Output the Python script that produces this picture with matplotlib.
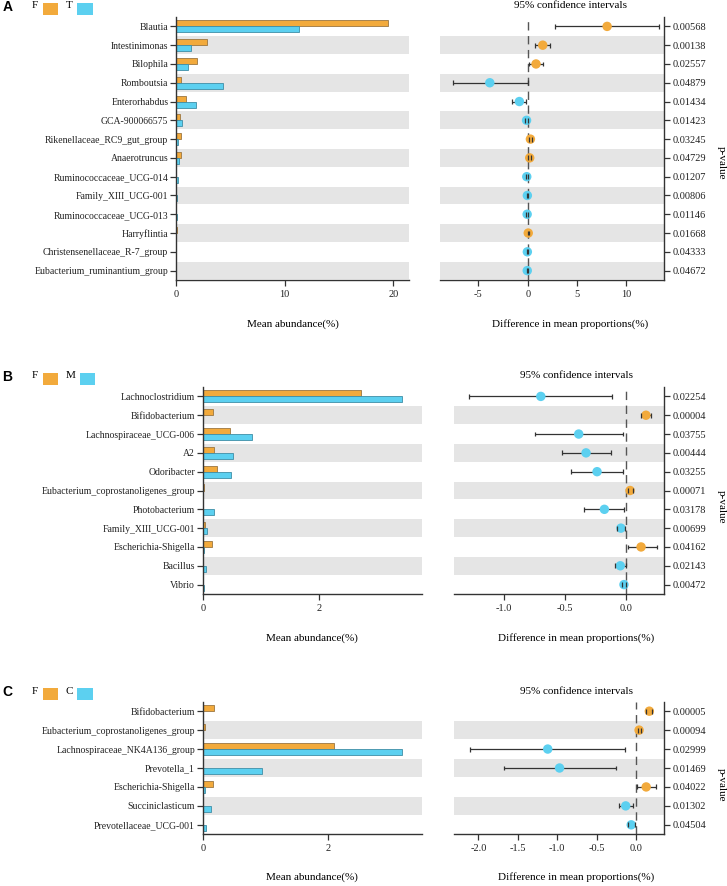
import numpy as np
import matplotlib
matplotlib.use("Agg")
import matplotlib.pyplot as plt
from matplotlib.patches import Rectangle

plt.rcParams["font.family"] = ["Liberation Serif", "DejaVu Serif"]

W, H = 727, 886
ORANGE = "#F2AA3C"
BLUE = "#5CD0F0"
BAND = "#E5E5E5"

# ---- panel A: F vs T ----
A_taxa = ["Blautia", "Intestinimonas", "Bilophila", "Romboutsia", "Enterorhabdus",
          "GCA-900066575", "Rikenellaceae_RC9_gut_group", "Anaerotruncus",
          "Ruminococcaceae_UCG-014", "Family_XIII_UCG-001", "Ruminococcaceae_UCG-013",
          "Harryflintia", "Christensenellaceae_R-7_group", "Eubacterium_ruminantium_group"]
A_F = [19.5, 2.82, 1.96, 0.46, 0.89, 0.37, 0.42, 0.42, 0.03, 0.03, 0.02, 0.08, 0.04, 0.02]
A_T = [11.3, 1.35, 1.10, 4.35, 1.81, 0.52, 0.21, 0.27, 0.21, 0.10, 0.12, 0.02, 0.02, 0.04]
A_diff = [8.05, 1.52, 0.84, -3.85, -0.85, -0.12, 0.27, 0.20, -0.10, -0.04, -0.06, 0.05, -0.04, -0.05]
A_lo = [2.77, 0.70, 0.16, -7.55, -1.56, -0.25, 0.10, 0.05, -0.20, -0.12, -0.14, -0.02, -0.10, -0.12]
A_hi = [13.35, 2.30, 1.58, 0.0, -0.17, 0.0, 0.45, 0.35, 0.0, 0.04, 0.02, 0.12, 0.02, 0.02]
A_p = ["0.00568", "0.00138", "0.02557", "0.04879", "0.01434", "0.01423", "0.03245",
       "0.04729", "0.01207", "0.00806", "0.01146", "0.01668", "0.04333", "0.04672"]

# ---- panel B: F vs M ----
B_taxa = ["Lachnoclostridium", "Bifidobacterium", "Lachnospiraceae_UCG-006", "A2",
          "Odoribacter", "Eubacterium_coprostanoligenes_group", "Photobacterium",
          "Family_XIII_UCG-001", "Escherichia-Shigella", "Bacillus", "Vibrio"]
B_F = [2.72, 0.17, 0.47, 0.19, 0.24, 0.03, 0.01, 0.04, 0.16, 0.005, 0.0]
B_M = [3.42, 0.0, 0.85, 0.52, 0.48, 0.0, 0.20, 0.08, 0.02, 0.06, 0.02]
B_diff = [-0.70, 0.16, -0.39, -0.33, -0.24, 0.03, -0.18, -0.045, 0.12, -0.05, -0.02]
B_lo = [-1.29, 0.12, -0.75, -0.53, -0.45, 0.01, -0.35, -0.08, 0.01, -0.09, -0.04]
B_hi = [-0.12, 0.20, -0.03, -0.13, -0.03, 0.05, -0.02, -0.01, 0.25, 0.0, -0.005]
B_p = ["0.02254", "0.00004", "0.03755", "0.00444", "0.03255", "0.00071", "0.03178",
       "0.00699", "0.04162", "0.02143", "0.00472"]

# ---- panel C: F vs C ----
C_taxa = ["Bifidobacterium", "Eubacterium_coprostanoligenes_group",
          "Lachnospiraceae_NK4A136_group", "Prevotella_1", "Escherichia-Shigella",
          "Succiniclasticum", "Prevotellaceae_UCG-001"]
C_F = [0.175, 0.04, 2.10, 0.0, 0.16, 0.0, 0.0]
C_C = [0.0, 0.0, 3.17, 0.94, 0.03, 0.13, 0.06]
C_diff = [0.17, 0.04, -1.12, -0.97, 0.13, -0.13, -0.06]
C_lo = [0.13, 0.02, -2.11, -1.68, 0.01, -0.22, -0.10]
C_hi = [0.21, 0.06, -0.14, -0.25, 0.26, -0.04, -0.01]
C_p = ["0.00005", "0.00094", "0.02999", "0.01469", "0.04022", "0.01302", "0.04504"]


def box(l, t, r, b):
    return [l / W, 1 - b / H, (r - l) / W, (b - t) / H]


fig = plt.figure(figsize=(W / 100, H / 100), dpi=100)


def style(ax, show):
    for s in ["left", "right", "top", "bottom"]:
        ax.spines[s].set_visible(s in show)
        ax.spines[s].set_color("#333333")
        ax.spines[s].set_linewidth(1.0)
    ax.tick_params(colors="#333333", labelcolor="#222222", labelsize=7.5,
                   length=4, width=0.9)


def panel(letter, g2, taxa, f, o, d, lo, hi, p, yl, lbox, rbox, lxlim, lticks,
          rxlim, rticks, rfmt, lab_y, lab_xl, lab_xr, ci_y, pv_y):
    n = len(taxa)
    y = np.arange(n)

    # left: mean abundance bars
    ax = fig.add_axes(box(*lbox))
    for i in y:
        if i % 2 == 1:
            ax.axhspan(i - 0.47, i + 0.47, color=BAND, lw=0, zorder=0)
    ax.barh(y - 0.16, f, height=0.32, color=ORANGE, edgecolor="#9b7640", lw=0.6, zorder=2)
    ax.barh(y + 0.16, o, height=0.32, color=BLUE, edgecolor="#3f8ea6", lw=0.6, zorder=2)
    ax.set_ylim(n - 0.5, -0.5)
    ax.set_xlim(*lxlim)
    ax.set_xticks(lticks)
    ax.set_yticks(y)
    ax.set_yticklabels(taxa)
    style(ax, ["left", "bottom"])
    ax.tick_params(axis="y", pad=1.5, labelsize=7)
    ax.tick_params(axis="x", pad=3)
    ax.margins(0)

    # right: difference with 95% CI
    bx = fig.add_axes(box(*rbox))
    for i in y:
        if i % 2 == 1:
            bx.axhspan(i - 0.47, i + 0.47, color=BAND, lw=0, zorder=0)
    bx.axvline(0, color="#555555", lw=1.0, ls=(0, (6, 4)), zorder=1)
    cols = [ORANGE if v > 0 else BLUE for v in d]
    bx.hlines(y, lo, hi, color="#333333", lw=0.9, zorder=2)
    bx.scatter(d, y, s=46, c=cols, zorder=3, linewidths=0)
    bx.vlines(lo, y - 0.13, y + 0.13, color="#333333", lw=0.9, zorder=4)
    bx.vlines(hi, y - 0.13, y + 0.13, color="#333333", lw=0.9, zorder=4)
    bx.set_ylim(n - 0.5, -0.5)
    bx.set_xlim(*rxlim)
    bx.set_xticks(rticks)
    bx.set_xticklabels([rfmt.format(t) for t in rticks])
    bx.yaxis.tick_right()
    bx.set_yticks(y)
    bx.set_yticklabels(p)
    style(bx, ["right", "bottom"])
    bx.tick_params(axis="y", pad=2)
    bx.tick_params(axis="x", pad=3)

    # texts
    fig.text(lab_xl / W, 1 - lab_y / H, "Mean abundance(%)", ha="center", va="center", fontsize=8)
    fig.text(lab_xr / W, 1 - lab_y / H, "Difference in mean proportions(%)",
             ha="center", va="center", fontsize=8)
    fig.text(lab_xr / W, 1 - ci_y / H, "95% confidence intervals", ha="center",
             va="center", fontsize=8)
    fig.text(721.5 / W, 1 - pv_y / H, "p-value", ha="center", va="center",
             rotation=270, fontsize=8)

    # letter and legend
    fig.text(7.5 / W, 1 - (yl + 1) / H, letter, ha="center", va="center", fontsize=10,
             fontweight="bold", family=["Liberation Sans", "DejaVu Sans"])
    fig.text(34.5 / W, 1 - yl / H, "F", ha="center", va="center", fontsize=8)
    gx = 69 if g2 != "M" else 70.5
    fig.text(gx / W, 1 - yl / H, g2, ha="center", va="center", fontsize=8)
    fig.patches.append(Rectangle((42.7 / W, 1 - (yl + 8.5) / H), 15 / W, 11.5 / H,
                                 transform=fig.transFigure, color=ORANGE, lw=0))
    sx = 77.3 if g2 != "M" else 80
    fig.patches.append(Rectangle((sx / W, 1 - (yl + 8.5) / H), 15.3 / W, 11.5 / H,
                                 transform=fig.transFigure, color=BLUE, lw=0))


panel("A", "T", A_taxa, A_F, A_T, A_diff, A_lo, A_hi, A_p, 6,
      (176, 17, 409, 280), (440, 17, 664.3, 280), (0, 21.43), [0, 10, 20],
      (-8.9, 13.85), [-5, 0, 5, 10], "{:g}", 324, 293, 570, 6, 163)

panel("B", "M", B_taxa, B_F, B_M, B_diff, B_lo, B_hi, B_p, 376,
      (202.7, 387, 421.7, 594), (454, 387, 664.3, 594), (0, 3.76), [0, 2],
      (-1.41, 0.31), [-1.0, -0.5, 0.0], "{:.1f}", 638, 312, 576, 375.7, 506.7)

panel("C", "C", C_taxa, C_F, C_C, C_diff, C_lo, C_hi, C_p, 691,
      (202.7, 701.7, 421.7, 834.3), (454, 701.7, 664.3, 834.3), (0, 3.49), [0, 2],
      (-2.31, 0.36), [-2.0, -1.5, -1.0, -0.5, 0.0], "{:.1f}", 877, 312, 576, 691.7, 785)

fig.savefig("out.png", dpi=100)
